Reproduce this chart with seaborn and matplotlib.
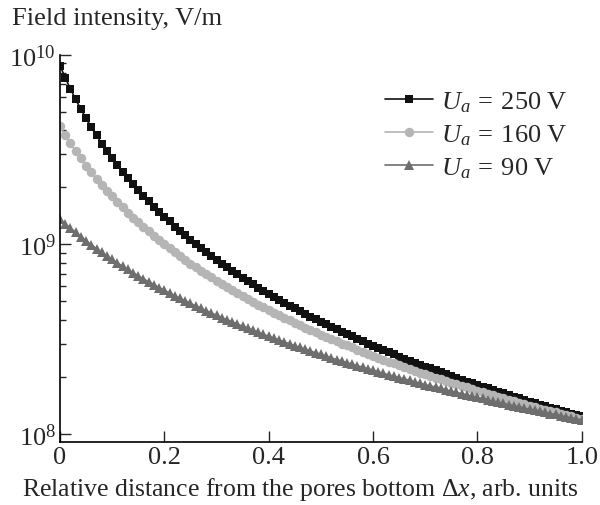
import numpy as np
import pandas as pd
import matplotlib
matplotlib.use("Agg")
import matplotlib.pyplot as plt
import seaborn as sns
from matplotlib.ticker import LogLocator, NullFormatter

# relative distance from the pores bottom (marker positions)
x_rel = np.linspace(0, 1, 101)

# field intensity in units of 1e8 V/m
e_250 = [87.5, 75.6, 66.0, 58.1, 51.6, 46.1, 41.4, 37.5, 34.0, 31.0,
         28.4, 26.2, 24.1, 22.3, 20.7, 19.3, 18.0, 16.9, 15.8, 14.8,
         14.0, 13.2, 12.4, 11.8, 11.15, 10.6, 10.05, 9.56, 9.10, 8.68,
         8.29, 7.92, 7.58, 7.26, 6.96, 6.67, 6.41, 6.16, 5.92, 5.70,
         5.49, 5.29, 5.10, 4.93, 4.76, 4.60, 4.45, 4.30, 4.16, 4.03,
         3.91, 3.79, 3.67, 3.56, 3.46, 3.36, 3.27, 3.17, 3.09, 3.00,
         2.92, 2.85, 2.77, 2.70, 2.63, 2.56, 2.50, 2.44, 2.38, 2.32,
         2.27, 2.22, 2.17, 2.12, 2.07, 2.02, 1.98, 1.93, 1.89, 1.85,
         1.81, 1.78, 1.74, 1.70, 1.67, 1.64, 1.60, 1.57, 1.54, 1.51,
         1.48, 1.46, 1.43, 1.40, 1.38, 1.35, 1.33, 1.30, 1.28, 1.26,
         1.24]
e_160 = [41.9, 37.7, 34.1, 31.0, 28.4, 26.0, 24.0, 22.2, 20.6, 19.1,
         17.9, 16.7, 15.7, 14.7, 13.8, 13.05, 12.3, 11.7, 11.1, 10.5,
         9.99, 9.51, 9.07, 8.65, 8.27, 7.91, 7.57, 7.26, 6.96, 6.69,
         6.43, 6.18, 5.95, 5.74, 5.53, 5.34, 5.15, 4.98, 4.81, 4.65,
         4.50, 4.36, 4.23, 4.10, 3.98, 3.86, 3.75, 3.64, 3.54, 3.44,
         3.34, 3.25, 3.17, 3.08, 3.00, 2.93, 2.86, 2.78, 2.72, 2.65,
         2.59, 2.53, 2.47, 2.41, 2.36, 2.30, 2.25, 2.20, 2.16, 2.11,
         2.07, 2.02, 1.98, 1.94, 1.90, 1.86, 1.83, 1.79, 1.76, 1.72,
         1.69, 1.66, 1.63, 1.60, 1.57, 1.54, 1.51, 1.49, 1.46, 1.44,
         1.41, 1.39, 1.36, 1.34, 1.32, 1.30, 1.28, 1.26, 1.24, 1.22,
         1.20]
e_90 = [13.6, 12.8, 12.2, 11.55, 11.0, 10.44, 9.95, 9.50, 9.08, 8.69,
        8.33, 7.99, 7.67, 7.37, 7.09, 6.83, 6.58, 6.35, 6.13, 5.92,
        5.73, 5.54, 5.36, 5.19, 5.04, 4.88, 4.74, 4.60, 4.47, 4.35,
        4.23, 4.11, 4.00, 3.90, 3.80, 3.70, 3.61, 3.52, 3.44, 3.35,
        3.28, 3.20, 3.13, 3.06, 2.99, 2.92, 2.86, 2.80, 2.74, 2.68,
        2.63, 2.58, 2.52, 2.47, 2.43, 2.38, 2.33, 2.29, 2.25, 2.21,
        2.17, 2.13, 2.09, 2.05, 2.02, 1.98, 1.95, 1.92, 1.88, 1.85,
        1.82, 1.79, 1.77, 1.74, 1.71, 1.68, 1.66, 1.63, 1.61, 1.58,
        1.56, 1.54, 1.52, 1.49, 1.47, 1.45, 1.43, 1.41, 1.39, 1.37,
        1.35, 1.34, 1.32, 1.30, 1.28, 1.27, 1.25, 1.23, 1.22, 1.20,
        1.19]

series_labels = [r"$U_a\:=\:250$ V", r"$U_a\:=\:160$ V", r"$U_a\:=\:90$ V"]
x_ticks = [0, 0.2, 0.4, 0.6, 0.8, 1.0]
x_tick_labels = ["0", "0.2", "0.4", "0.6", "0.8", "1.0"]

sns.set_style("ticks")
plt.rcParams["font.family"] = ["Liberation Serif", "DejaVu Serif"]
plt.rcParams["mathtext.fontset"] = "custom"
plt.rcParams["mathtext.rm"] = "Liberation Serif"
plt.rcParams["mathtext.it"] = "Liberation Serif:italic"
plt.rcParams["font.size"] = 19

fig = plt.figure(figsize=(6.0, 5.06), dpi=100)
ax = fig.add_axes([0.1, 0.1245, 0.8695, 0.7655])

styles = [
    (e_250, "s", "#111111", 6.0),
    (e_160, "o", "#b5b5b5", 6.8),
    (e_90, "^", "#6e6e6e", 7.2),
]
for (vals, mk, col, ms), lab in zip(styles, series_labels):
    sns.lineplot(x=x_rel, y=np.array(vals) * 1e8, ax=ax, color=col, lw=1.2,
                 marker=mk, markersize=ms, markeredgewidth=0, label=lab)

ax.set_yscale("log")
ax.set_xlim(0, 1)
ax.set_ylim(9.08e7, 1e10)
ax.set_xticks(x_ticks)
ax.set_xticklabels(x_tick_labels)
ax.yaxis.set_major_locator(LogLocator(base=10, numticks=5))
ax.yaxis.set_minor_locator(LogLocator(base=10, subs=np.arange(2, 10), numticks=20))
ax.yaxis.set_minor_formatter(NullFormatter())
ax.tick_params(which="major", direction="in", length=8, width=1, labelsize=19, pad=3)
ax.tick_params(which="minor", direction="in", length=4.5, width=1)
ax.spines["top"].set_visible(False)
ax.spines["right"].set_visible(False)
for s in ["left", "bottom"]:
    ax.spines[s].set_color("black")
    ax.spines[s].set_linewidth(1.2)

ax.set_xlabel(r"Relative distance from the pores bottom $\Delta x$, arb. units",
              fontsize=18.5, labelpad=1)
ax.xaxis.set_label_coords(0.46, -0.085)
ax.set_ylabel("")
fig.text(0.02, 0.962, "Field intensity, V/m", fontsize=19, ha="left", va="center")

ax.legend(loc="upper left", bbox_to_anchor=(0.642, 0.822),
          bbox_transform=fig.transFigure, frameon=False, fontsize=19,
          handlelength=1.8, handletextpad=0.3, labelspacing=0.33,
          borderpad=0, borderaxespad=0)

fig.savefig("out.png", dpi=100)
